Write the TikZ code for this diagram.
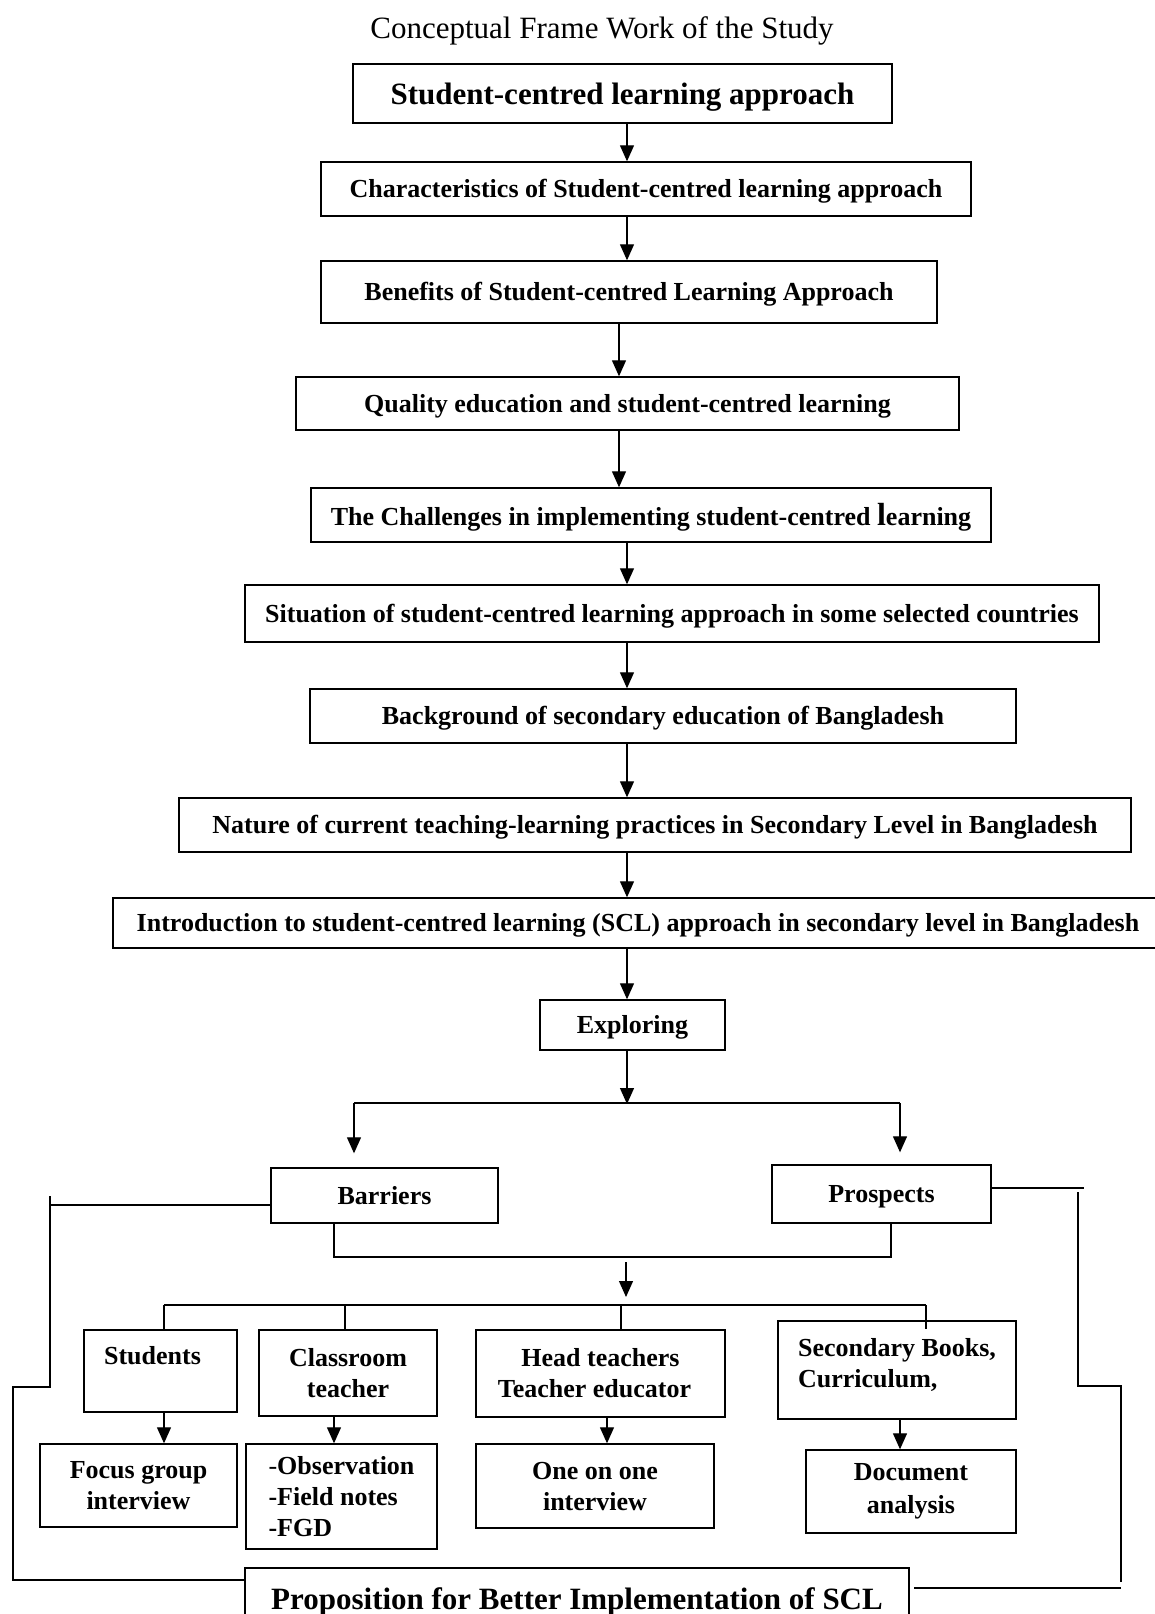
\documentclass[tikz,border=0pt]{standalone}
\usepackage{fontspec}
\setmainfont{Liberation Serif}
\usetikzlibrary{arrows.meta}

\begin{document}
\begin{tikzpicture}[x=1pt, y=-1pt,
  box/.style={draw, line width=1.4pt, inner sep=0pt, align=center,
    font=\fontsize{26}{31}\selectfont\bfseries},
  onebox/.style={box, text depth=1pt},
  bigbox/.style={box, text depth=0pt, font=\fontsize{31}{37}\selectfont\bfseries},
  arr/.style={line width=1.2pt, -{Triangle[length=16pt,width=14pt]}},
  link/.style={line width=1.2pt}]
\useasboundingbox (0,0) rectangle (1154,1614);
\node (title) at (602,31) {\fontsize{31}{37}\selectfont Conceptual Frame Work of the Study};
\node[bigbox, minimum width=539, minimum height=59] (scl) at (622.5,93.5) {Student-centred learning approach};
\node[onebox, minimum width=650, minimum height=54] (char) at (646,189) {Characteristics of Student-centred learning approach};
\node[onebox, minimum width=616, minimum height=62] (ben) at (629,292) {Benefits of Student-centred Learning Approach};
\node[onebox, minimum width=663, minimum height=53] (qual) at (627.5,403.5) {Quality education and student-centred learning};
\node[onebox, minimum width=680, minimum height=54] (chal) at (651,515) {The Challenges in implementing student-centred {\fontsize{32}{31}\selectfont l}earning};
\node[onebox, minimum width=854, minimum height=57] (sit) at (672,613.5) {Situation of student-centred learning approach in some selected countries};
\node[onebox, minimum width=706, minimum height=54] (back) at (663,716) {Background of secondary education of Bangladesh};
\node[onebox, minimum width=952, minimum height=54] (nat) at (655,825) {Nature of current teaching-learning practices in Secondary Level in Bangladesh};
\node[onebox, minimum width=1050, minimum height=50] (intro) at (638,923) {Introduction to student-centred learning (SCL) approach in secondary level in Bangladesh};
\node[onebox, minimum width=185, minimum height=50] (expl) at (632.5,1025) {Exploring};
\node[onebox, minimum width=227, minimum height=55] (barr) at (384.5,1195.5) {Barriers};
\node[onebox, minimum width=219, minimum height=58] (pros) at (881.5,1194) {Prospects};
\node[box, minimum width=153, minimum height=82] (stud) at (160.5,1371) {Students\hspace*{16pt}\\~};
\node[box, minimum width=178, minimum height=86] (cls) at (348,1373) {Classroom\\teacher};
\node[box, minimum width=249, minimum height=87] (head) at (600.5,1373.5) {Head teachers\\Teacher educator\hspace*{12pt}};
\node[box, align=left, minimum width=238, minimum height=98] (sec) at (897,1370) {Secondary Books,\\Curriculum,\\[-16pt]~};
\node[box, minimum width=197, minimum height=83] (fgi) at (138.5,1485.5) {Focus group\\interview};
\node[box, align=left, minimum width=191, minimum height=105] (obs) at (341.5,1496.5) {{\mdseries-}Observation\\-Field notes\\-FGD};
\node[box, minimum width=238, minimum height=84] (ooi) at (595,1486) {One on one\\interview};
\node[box, minimum width=210, minimum height=83] (doc) at (911,1491.5) {Document\\[2pt]analysis};
\node[bigbox, minimum width=664, minimum height=62] (prop) at (577,1599) {Proposition for Better Implementation of SCL};
\coordinate (ax) at (627,0);
\coordinate (bx) at (619,0);
\draw[arr] (scl.south -| ax) -- (char.north -| ax);
\draw[arr] (char.south -| ax) -- (ben.north -| ax);
\draw[arr] (ben.south -| bx) -- (qual.north -| bx);
\draw[arr] (qual.south -| bx) -- (chal.north -| bx);
\draw[arr] (chal.south -| ax) -- (sit.north -| ax);
\draw[arr] (sit.south -| ax) -- (back.north -| ax);
\draw[arr] (back.south -| ax) -- (nat.north -| ax);
\draw[arr] (nat.south -| ax) -- (intro.north -| ax);
\draw[arr] (intro.south -| ax) -- (expl.north -| ax);
\coordinate (fork) at (627,1104);
\coordinate (fl) at (354,1103);
\coordinate (fr) at (900,1103);
\draw[arr] (expl.south -| fork) -- (fork);
\draw[link] (fl) -- (fr);
\draw[arr, shorten >=14pt] (fl) -- (fl |- barr.north);
\draw[arr, shorten >=12pt] (fr) -- (fr |- pros.north);
\coordinate (bl) at (334,1257);
\coordinate (br) at (891,1257);
\coordinate (jn) at (626,1305);
\draw[link] (barr.south -| bl) -- (bl) -- (br) -- (pros.south -| br);
\draw[arr, shorten <=5pt, shorten >=8pt] (bl -| jn) -- (jn);
\coordinate (d1) at (164,1305);
\coordinate (d2) at (345,1305);
\coordinate (d3) at (621,1305);
\coordinate (d4) at (926,1305);
\draw[link] (d1) -- (d4);
\foreach \d in {d1,d2,d3,d4}
  \draw[link] (\d) -- (\d |- stud.north);
\coordinate (e2) at (334,0);
\coordinate (e3) at (607,0);
\coordinate (e4) at (900,0);
\draw[arr] (stud.south -| d1) -- (fgi.north -| d1);
\draw[arr] (cls.south -| e2) -- (obs.north -| e2);
\draw[arr] (head.south -| e3) -- (ooi.north -| e3);
\draw[arr] (sec.south -| e4) -- (doc.north -| e4);
\coordinate (l1) at (50,1196);
\coordinate (l2) at (13,1387);
\draw[link] ([yshift=-9.5pt]barr.west) -- ++(-221,0);
\draw[link] (l1) |- (l2) |- ([yshift=19pt]prop.west);
\coordinate (r1) at (1078,1192);
\coordinate (r2) at (1121,1386);
\coordinate (r3) at (1121,1582);
\coordinate (r4) at (1121,1588);
\draw[link] ([yshift=6pt]pros.east) -- ++(92,0);
\draw[link] (r1) |- (r2) -- (r3);
\draw[link] (r4) -- ([xshift=4pt,yshift=11pt]prop.east);
\end{tikzpicture}
\end{document}
